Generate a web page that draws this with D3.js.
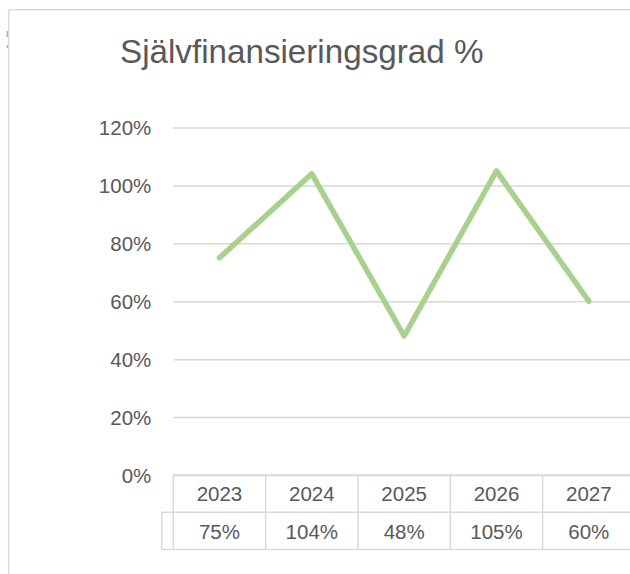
<!DOCTYPE html>
<html>
<head>
<meta charset="utf-8">
<script src="https://cdn.jsdelivr.net/npm/d3@7"></script>
<style>
  html, body { margin: 0; padding: 0; background: #fff; }
  svg { display: block; }
  text { font-family: "Liberation Sans", Arial, sans-serif; fill: #595959; }
</style>
</head>
<body>
<svg id="chart" width="630" height="574"></svg>
<script>
const title = "Självfinansieringsgrad %";
const years = ["2023", "2024", "2025", "2026", "2027"];
const values = [0.75, 1.04, 0.48, 1.05, 0.60];
const tableLabels = ["75%", "104%", "48%", "105%", "60%"];
const yTicks = [0, 0.2, 0.4, 0.6, 0.8, 1.0, 1.2];

const svg = d3.select("#chart");
const W = 630, H = 574;
const plot = { left: 173.3, right: 635, top: 127.5, bottom: 475 };
const rowH = 37.2;
const gridColor = "#d9d9d9";

// outer frame
svg.append("line").attr("x1", 8.7).attr("x2", W).attr("y1", 9.7).attr("y2", 9.7)
  .attr("stroke", gridColor).attr("stroke-width", 1.5);
svg.append("line").attr("x1", 8.7).attr("x2", 8.7).attr("y1", 9.7).attr("y2", H)
  .attr("stroke", gridColor).attr("stroke-width", 1.5);
// small sliver of a neighbouring object at the left edge
svg.append("path").attr("d", "M7.2,31 L7.2,37 M7.2,45 L7.2,48")
  .attr("stroke", "#a0a0a0").attr("stroke-width", 1.2).attr("fill", "none");

const x = d3.scaleBand().domain(years).range([plot.left, plot.right]).padding(0);
const y = d3.scaleLinear().domain([0, 1.2]).range([plot.bottom, plot.top]);

// title
svg.append("text").attr("x", 120).attr("y", 63).style("font-size", "33.2px").text(title);

// gridlines + y labels
const yAxis = d3.axisLeft(y).tickValues(yTicks).tickFormat(d3.format(".0%"))
  .tickSize(-(plot.right - plot.left)).tickPadding(22);
const gy = svg.append("g").attr("transform", `translate(${plot.left},0)`).call(yAxis);
gy.select(".domain").remove();
gy.selectAll(".tick line").attr("stroke", gridColor).attr("stroke-width", 1.5);
gy.selectAll(".tick text").attr("fill", "#595959")
  .style("font-size", "20.5px").style("font-family", '"Liberation Sans", Arial, sans-serif')
  .attr("dy", "0.36em");

// line
const line = d3.line().x((d, i) => x(years[i]) + x.bandwidth() / 2).y(d => y(d));
svg.append("path").datum(values).attr("d", line)
  .attr("fill", "none").attr("stroke", "#a9d18e").attr("stroke-width", 5.5)
  .attr("stroke-linejoin", "round").attr("stroke-linecap", "round");

// data table
const t = svg.append("g");
const r0 = plot.bottom, r1 = plot.bottom + rowH, r2 = plot.bottom + 2 * rowH;
const keyLeft = 161.7;
const hl = (x1, x2, yy) => t.append("line").attr("x1", x1).attr("x2", x2).attr("y1", yy).attr("y2", yy)
  .attr("stroke", gridColor).attr("stroke-width", 1.5);
const vl = (xx, y1, y2) => t.append("line").attr("x1", xx).attr("x2", xx).attr("y1", y1).attr("y2", y2)
  .attr("stroke", gridColor).attr("stroke-width", 1.5);
hl(plot.left, plot.right, r0);
hl(keyLeft, plot.right, r1);
hl(keyLeft, plot.right, r2);
vl(keyLeft, r1, r2);
years.forEach(yr => vl(x(yr), r0, r2));
vl(plot.right, r0, r2);

t.selectAll("text.yr").data(years).join("text").attr("class", "yr")
  .attr("x", d => x(d) + x.bandwidth() / 2).attr("y", r0 + 26)
  .attr("text-anchor", "middle").style("font-size", "20.5px").text(d => d);
t.selectAll("text.val").data(tableLabels).join("text").attr("class", "val")
  .attr("x", (d, i) => x(years[i]) + x.bandwidth() / 2).attr("y", r1 + 26.5)
  .attr("text-anchor", "middle").style("font-size", "20.5px").text(d => d);
</script>
</body>
</html>
